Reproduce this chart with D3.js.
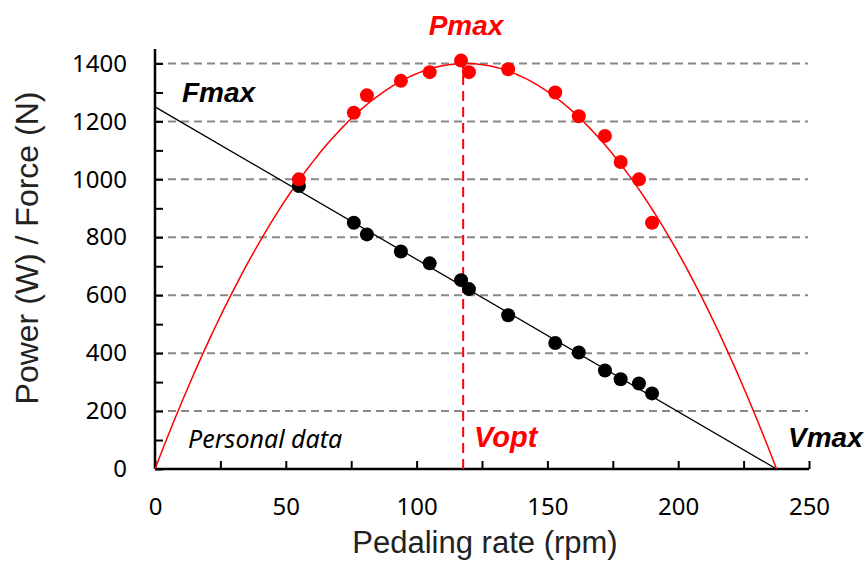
<!doctype html>
<html>
<head>
<meta charset="utf-8">
<title>Power / Force vs pedaling rate</title>
<script src="https://d3js.org/d3.v7.min.js"></script>
<style>
  body { margin: 0; background: #fff; }
</style>
</head>
<body>
<svg width="867" height="569"></svg>
<script>
// measured points: pedaling rate (rpm) / power (W)
var powerRate  = [55, 76, 81, 94, 105, 117, 120, 135, 153, 162, 172, 178, 185, 190];
var powerValue = [1000, 1230, 1290, 1340, 1370, 1410, 1370, 1380, 1300, 1218, 1150, 1060, 1000, 850];

// measured points: pedaling rate (rpm) / force (N)
var forceRate  = [55, 76, 81, 94, 105, 117, 120, 135, 153, 162, 172, 178, 185, 190];
var forceValue = [977, 850, 810, 751, 710, 652, 621, 531, 435, 402, 340, 310, 295, 261];

// fitted model
var fmax = 1250, vmax = 237.6, pmax = 1400, vopt = 117.8;

var xTicks = [0, 50, 100, 150, 200, 250];
var yTicks = [0, 200, 400, 600, 800, 1000, 1200, 1400];

var svg = d3.select('svg'),
    margin = {top: 49, right: 57, bottom: 100, left: 155},
    width = +svg.attr('width') - margin.left - margin.right,
    height = +svg.attr('height') - margin.top - margin.bottom,
    g = svg.append('g').attr('transform', 'translate(' + margin.left + ',' + margin.top + ')');

var sans = '"Noto Sans", "Open Sans", sans-serif',
    arial = '"Liberation Sans", Arial, sans-serif';

var x = d3.scaleLinear().domain([0, 250]).range([0, 654]);
var y = d3.scaleLinear().domain([0, 1450]).range([height, 0]);

// grid
g.append('g')
  .selectAll('line')
  .data(yTicks.slice(1))
  .enter().append('line')
  .attr('x1', 0)
  .attr('x2', x(250) - 1)
  .attr('y1', function(d) { return y(d); })
  .attr('y2', function(d) { return y(d); })
  .attr('stroke', '#888')
  .attr('stroke-width', 2)
  .attr('stroke-dasharray', '8,5');

// axes
var xAxis = g.append('g')
  .attr('transform', 'translate(0,' + height + ')')
  .call(d3.axisBottom(x).tickValues(d3.range(0, 251, 25)).tickSize(-8)
    .tickFormat(function(d) { return xTicks.indexOf(d) >= 0 ? d : ''; }));
xAxis.select('.domain').attr('d', 'M0,0H' + x(250)).attr('stroke-width', 2.5);
xAxis.selectAll('.tick line').attr('stroke-width', 2);
xAxis.selectAll('.tick text')
  .attr('y', 38)
  .attr('dy', '0.32em');

var yAxis = g.append('g')
  .call(d3.axisLeft(y).tickValues(d3.range(0, 1401, 100)).tickSize(-8)
    .tickFormat(function(d) { return yTicks.indexOf(d) >= 0 ? d : ''; }));
yAxis.select('.domain').attr('d', 'M0,' + height + 'V0').attr('stroke-width', 2.5);
yAxis.selectAll('.tick line').attr('stroke-width', 2);
yAxis.selectAll('.tick text').attr('x', -28);

g.selectAll('.domain, .tick line').attr('stroke', '#000');
g.selectAll('.tick text')
  .attr('font-family', sans)
  .attr('font-size', 24)
  .attr('fill', '#000');

// force line
g.append('line')
  .attr('x1', x(0)).attr('y1', y(fmax))
  .attr('x2', x(vmax)).attr('y2', y(0))
  .attr('stroke', '#000')
  .attr('stroke-width', 1.3);

// power parabola
var curve = d3.range(0, 201).map(function(i) {
  var v = vmax * i / 200;
  return [v, 4 * pmax * v * (vmax - v) / (vmax * vmax)];
});
g.append('path')
  .datum(curve)
  .attr('fill', 'none')
  .attr('stroke', '#ff0000')
  .attr('stroke-width', 1.5)
  .attr('d', d3.line()
    .x(function(d) { return x(d[0]); })
    .y(function(d) { return y(d[1]); }));

// vopt dashed
g.append('line')
  .attr('x1', x(vopt)).attr('x2', x(vopt))
  .attr('y1', y(0)).attr('y2', y(1400))
  .attr('stroke', '#ff0000')
  .attr('stroke-width', 2)
  .attr('stroke-dasharray', '10,6');

// points
g.append('g')
  .selectAll('circle')
  .data(forceRate)
  .enter().append('circle')
  .attr('cx', function(d) { return x(d); })
  .attr('cy', function(d, i) { return y(forceValue[i]); })
  .attr('r', 7)
  .attr('fill', '#000');

g.append('g')
  .selectAll('circle')
  .data(powerRate)
  .enter().append('circle')
  .attr('cx', function(d) { return x(d); })
  .attr('cy', function(d, i) { return y(powerValue[i]); })
  .attr('r', 7)
  .attr('fill', '#ff0000');

// annotations
var labels = [
  {t: 'Pmax', x: 466, y: 35, s: 28, c: '#ff0000', a: 'middle'},
  {t: 'Fmax', x: 182, y: 102, s: 28, c: '#000', a: 'start'},
  {t: 'Vopt', x: 474, y: 447, s: 29, c: '#ff0000', a: 'start'},
  {t: 'Vmax', x: 788, y: 447, s: 28, c: '#000', a: 'start'}
];
svg.selectAll('.lab')
  .data(labels)
  .enter().append('text')
  .attr('x', function(d) { return d.x; })
  .attr('y', function(d) { return d.y; })
  .attr('text-anchor', function(d) { return d.a; })
  .attr('fill', function(d) { return d.c; })
  .attr('font-family', arial)
  .attr('font-weight', 'bold')
  .attr('font-style', 'italic')
  .attr('font-size', function(d) { return d.s; })
  .text(function(d) { return d.t; });

svg.append('text')
  .attr('x', 188)
  .attr('y', 448)
  .attr('font-family', sans)
  .attr('font-style', 'italic')
  .attr('font-size', 25)
  .attr('fill', '#000')
  .text('Personal data');

// axis titles
svg.append('text')
  .attr('x', 485)
  .attr('y', 553)
  .attr('text-anchor', 'middle')
  .attr('font-family', arial)
  .attr('font-size', 31)
  .attr('fill', '#222')
  .text('Pedaling rate (rpm)');

svg.append('text')
  .attr('transform', 'translate(38,248) rotate(-90)')
  .attr('text-anchor', 'middle')
  .attr('font-family', arial)
  .attr('font-size', 32)
  .attr('fill', '#222')
  .text('Power (W) / Force (N)');
</script>
</body>
</html>
